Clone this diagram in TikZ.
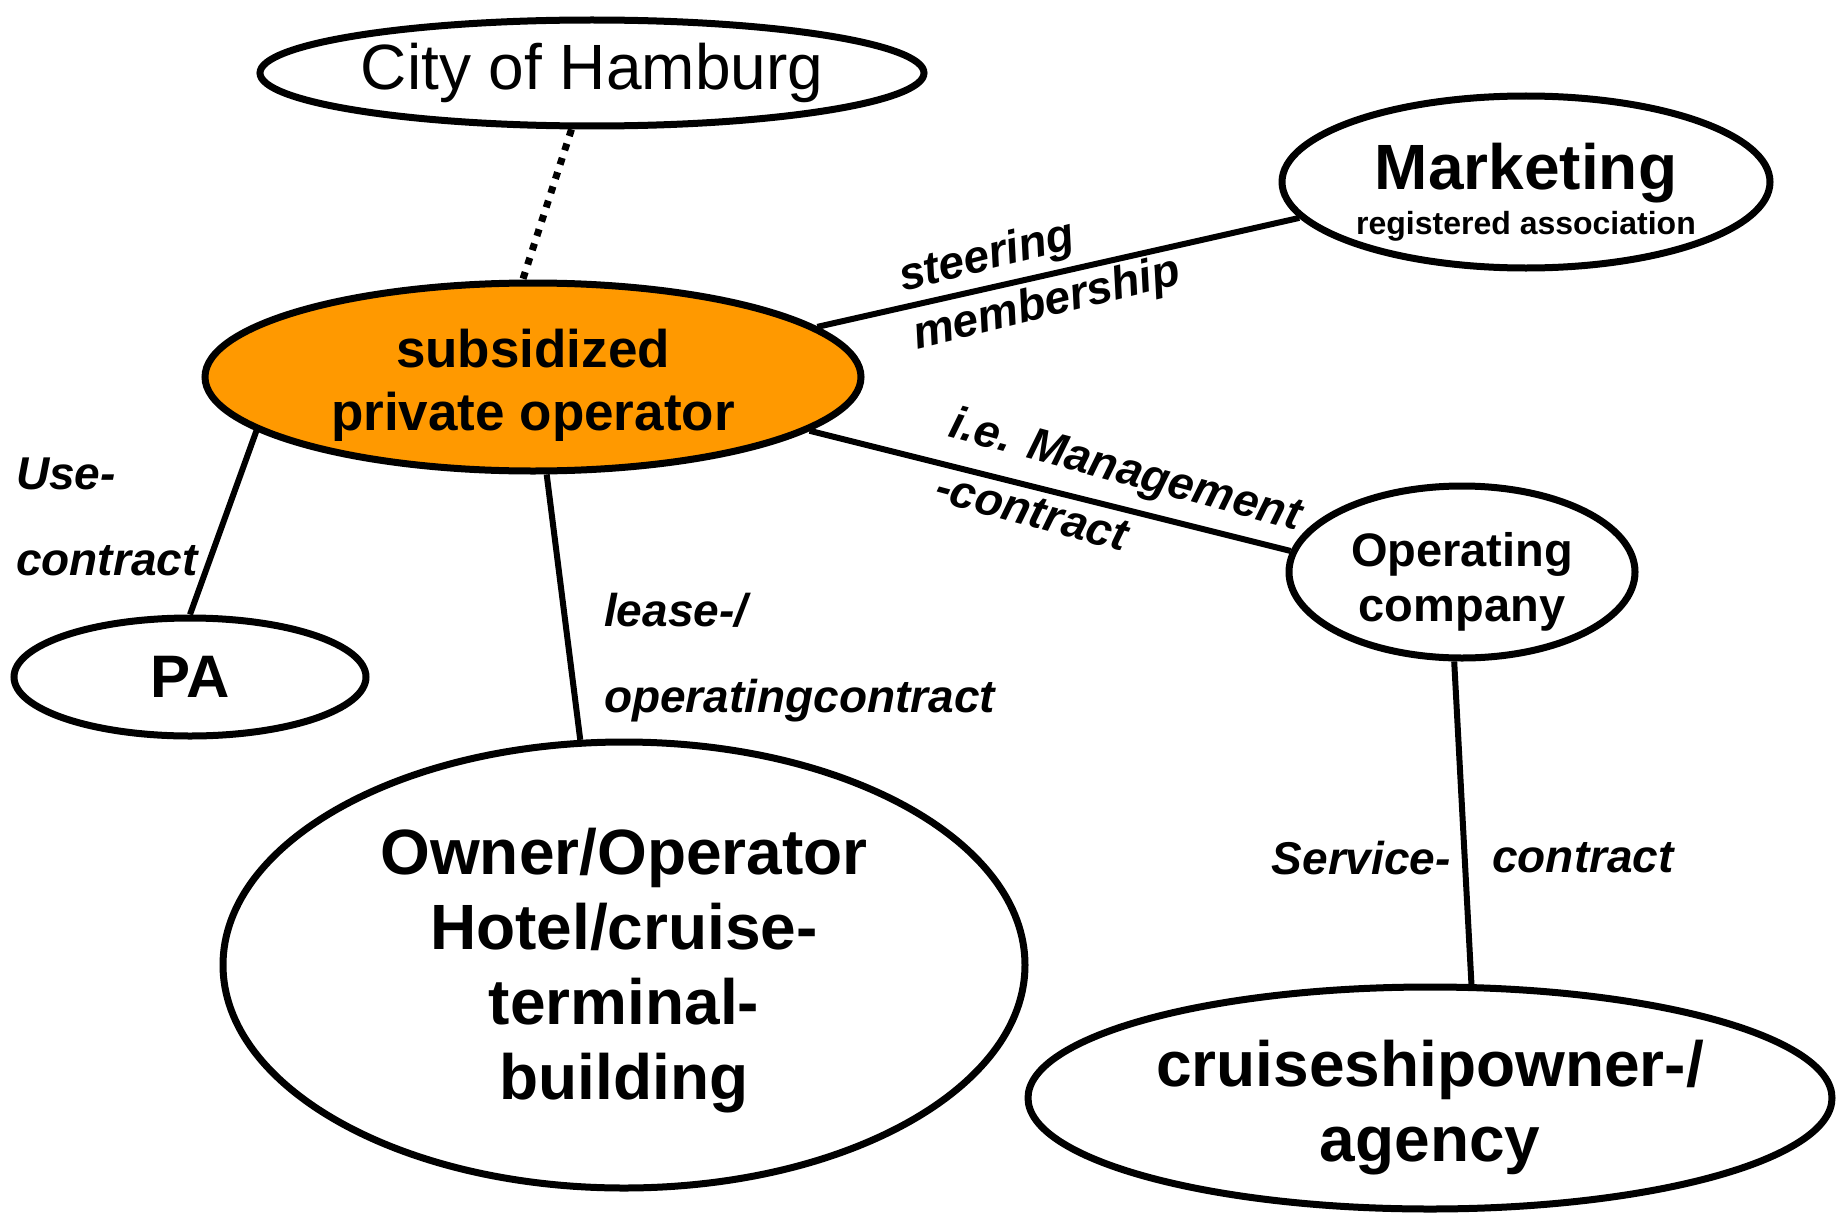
\documentclass[tikz,border=0pt]{standalone}
\usepackage{fontspec}
\setmainfont{Liberation Sans}
\usetikzlibrary{shapes}
\definecolor{opOrange}{RGB}{255,153,0}

\begin{document}
\begin{tikzpicture}[x=1pt,y=-1pt,
	party/.style={ellipse,draw,line width=7pt,inner sep=0pt,align=center},
	link/.style={line width=6pt},
	lbl/.style={inner sep=0pt,font=\bfseries\itshape\fontsize{46}{86}\selectfont}]
\useasboundingbox (0,0) rectangle (1838,1212);
\node [party,minimum width=664pt,minimum height=106pt,font=\fontsize{64}{76}\selectfont] (city) at (592,73) {City of Hamburg};
\node [party,minimum width=488pt,minimum height=172pt,text height=112pt] (mkt) at (1526,182)
	{\fontsize{64}{50}\bfseries\selectfont Marketing\\[7pt] \fontsize{32}{50}\bfseries\selectfont registered association};
\node [party,fill=opOrange,minimum width=656pt,minimum height=188pt,text height=117pt,font=\bfseries\fontsize{53}{63}\selectfont] (sub) at (533,377) {subsidized\\private operator};
\node [party,minimum width=352pt,minimum height=118pt,font=\bfseries\fontsize{60}{72}\selectfont] (pa) at (190,677) {PA};
\node [party,minimum width=346pt,minimum height=172pt,text height=108pt,font=\bfseries\fontsize{47}{55}\selectfont] (opc) at (1462,572) {Operating\\company};
\node [party,minimum width=802pt,minimum height=446pt,text height=283pt,font=\bfseries\fontsize{64}{75}\selectfont] (owner) at (624,965) {Owner/Operator\\Hotel/cruise-\\terminal-\\building};
\node [party,minimum width=804pt,minimum height=222pt,text height=140pt,font=\bfseries\fontsize{64}{75}\selectfont] (cruise) at (1430,1098) {cruiseshipowner-/\\agency};

\draw [link,line width=7pt,dash pattern=on 7pt off 8pt] (city.-110) -- (sub.96);
\draw [link] (sub.10) -- (mkt.189);
\draw [link] (sub.-11) -- (opc.173);
\draw [link] (sub.191) -- (pa.90);
\draw [link] (sub.-82) -- (owner.101);
\draw [link] (opc.-95) -- (cruise.70);

\node [lbl,align=left,anchor=west] (uselbl) at (16,517) {Use-\\contract};
\node [lbl,align=left,anchor=west] (leaselbl) at (604,658) {lease-/\\operatingcontract};
\node [lbl,rotate=14] (steerlbl) at (987,258) {steering};
\node [lbl,rotate=14] (memblbl) at (1047,305) {membership};
\node [lbl,rotate=-15] (mgmtlbl) at (1125,472) {i.e. Management};
\node [lbl,rotate=-15] (mcontrlbl) at (1032,512) {-contract};
\node [lbl,anchor=east] (servlbl) at (1451,858) {Service-};
\node [lbl,anchor=west] (scontrlbl) at (1492,858) {contract};
\end{tikzpicture}
\end{document}
